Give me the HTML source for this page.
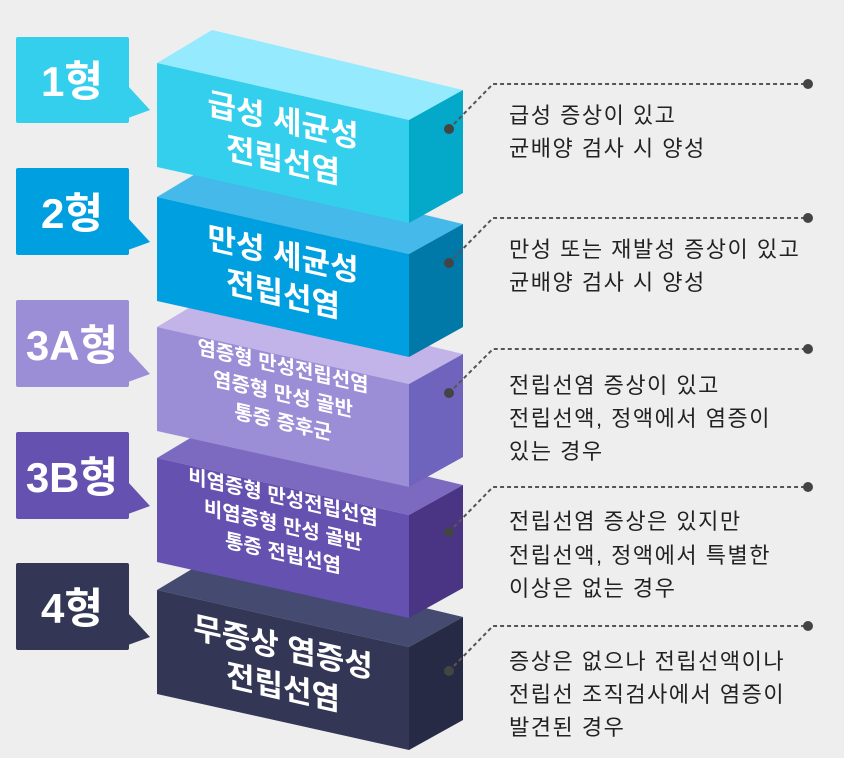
<!DOCTYPE html>
<html><head><meta charset="utf-8"><style>
html,body{margin:0;padding:0;background:#eeeeee;}
svg{display:block;}
.t{font-family:"Liberation Sans","Noto Sans CJK KR",sans-serif;font-weight:bold;fill:#fff;text-anchor:middle;}
.d{font-family:"Liberation Sans","Noto Sans CJK KR",sans-serif;fill:#222;font-size:22px;letter-spacing:1.5px;}
</style></head><body>
<svg width="844" height="758" viewBox="0 0 844 758" xmlns="http://www.w3.org/2000/svg">
<rect width="844" height="758" fill="#eeeeee"/>

<g>
<polygon points="157,590 212,557 463,617 409,647" fill="#444a70"/>
<polygon points="157,590 409,647 409,750 157,694" fill="#333654"/>
<polygon points="409,647 463,617 463,720 409,750" fill="#272a44"/>
<g transform="translate(283,670) skewY(12.75)">
<text class="t" font-size="31" x="0" y="-12">무증상 염증성</text>
<text class="t" font-size="31" x="0" y="28">전립선염</text>
</g>
</g>
<g>
<polygon points="157,458 212,425 463,485 409,515" fill="#7b6ac0"/>
<polygon points="157,458 409,515 409,618 157,562" fill="#6451b0"/>
<polygon points="409,515 463,485 463,588 409,618" fill="#4a3585"/>
<g transform="translate(283,538) skewY(12.75)">
<text class="t" font-size="20" x="0" y="-34">비염증형 만성전립선염</text>
<text class="t" font-size="20" x="0" y="-6">비염증형 만성 골반</text>
<text class="t" font-size="20" x="0" y="22">통증 전립선염</text>
</g>
</g>
<g>
<polygon points="157,327 212,294 463,354 409,384" fill="#c2b4e8"/>
<polygon points="157,327 409,384 409,487 157,431" fill="#9b8ed6"/>
<polygon points="409,384 463,354 463,457 409,487" fill="#6e64bd"/>
<g transform="translate(283,407) skewY(12.75)">
<text class="t" font-size="20" x="0" y="-34">염증형 만성전립선염</text>
<text class="t" font-size="20" x="0" y="-6">염증형 만성 골반</text>
<text class="t" font-size="20" x="0" y="22">통증 증후군</text>
</g>
</g>
<g>
<polygon points="157,197 212,164 463,224 409,254" fill="#44b9ea"/>
<polygon points="157,197 409,254 409,357 157,301" fill="#009fe0"/>
<polygon points="409,254 463,224 463,327 409,357" fill="#0079a8"/>
<g transform="translate(283,277) skewY(12.75)">
<text class="t" font-size="31" x="0" y="-12">만성 세균성</text>
<text class="t" font-size="31" x="0" y="28">전립선염</text>
</g>
</g>
<g>
<polygon points="157,63 212,30 463,90 409,120" fill="#95ebfd"/>
<polygon points="157,63 409,120 409,223 157,167" fill="#33cfec"/>
<polygon points="409,120 463,90 463,193 409,223" fill="#04a8c8"/>
<g transform="translate(283,143) skewY(12.75)">
<text class="t" font-size="31" x="0" y="-12">급성 세균성</text>
<text class="t" font-size="31" x="0" y="28">전립선염</text>
</g>
</g>

<g>
<rect x="16" y="37" width="113" height="86" rx="2" fill="#33cfec"/><polygon points="128,86 150,110 128,118" fill="#33cfec"/>
<text class="t" font-size="42" x="72" y="96">1형</text>
<rect x="16" y="168" width="113" height="87" rx="2" fill="#009fe0"/><polygon points="128,218 150,242 128,250" fill="#009fe0"/>
<text class="t" font-size="42" x="72" y="228">2형</text>
<rect x="16" y="300" width="113" height="87" rx="2" fill="#9b8ed6"/><polygon points="128,350 150,374 128,382" fill="#9b8ed6"/>
<text class="t" font-size="42" x="72" y="360">3A형</text>
<rect x="16" y="432" width="113" height="87" rx="2" fill="#6451b0"/><polygon points="128,482 150,506 128,514" fill="#6451b0"/>
<text class="t" font-size="42" x="72" y="492">3B형</text>
<rect x="16" y="563" width="113" height="87" rx="2" fill="#333654"/><polygon points="128,613 150,637 128,645" fill="#333654"/>
<text class="t" font-size="42" x="72" y="623">4형</text>
</g>

<g stroke="#555" stroke-width="2" stroke-dasharray="4,3" fill="none">
<polyline points="449,129 493,84 808,84"/>
<polyline points="449,263 493,218 808,218"/>
<polyline points="449,393 493,349 808,349"/>
<polyline points="449,532 493,487 808,487"/>
<polyline points="449,671 493,626 808,626"/>
</g>
<g fill="#444">
<circle cx="449" cy="129" r="5"/><circle cx="808" cy="84" r="5"/>
<circle cx="449" cy="263" r="5"/><circle cx="808" cy="218" r="5"/>
<circle cx="449" cy="393" r="5"/><circle cx="808" cy="349" r="5"/>
<circle cx="449" cy="532" r="5"/><circle cx="808" cy="487" r="5"/>
<circle cx="449" cy="671" r="5"/><circle cx="808" cy="626" r="5"/>
</g>

<text class="d" x="509" y="123">급성 증상이 있고</text>
<text class="d" x="509" y="156">균배양 검사 시 양성</text>
<text class="d" x="509" y="257">만성 또는 재발성 증상이 있고</text>
<text class="d" x="509" y="290">균배양 검사 시 양성</text>
<text class="d" x="509" y="393">전립선염 증상이 있고</text>
<text class="d" x="509" y="426">전립선액, 정액에서 염증이</text>
<text class="d" x="509" y="459">있는 경우</text>
<text class="d" x="509" y="529">전립선염 증상은 있지만</text>
<text class="d" x="509" y="563">전립선액, 정액에서 특별한</text>
<text class="d" x="509" y="596">이상은 없는 경우</text>
<text class="d" x="509" y="669">증상은 없으나 전립선액이나</text>
<text class="d" x="509" y="702">전립선 조직검사에서 염증이</text>
<text class="d" x="509" y="735">발견된 경우</text>
</svg>
</body></html>
